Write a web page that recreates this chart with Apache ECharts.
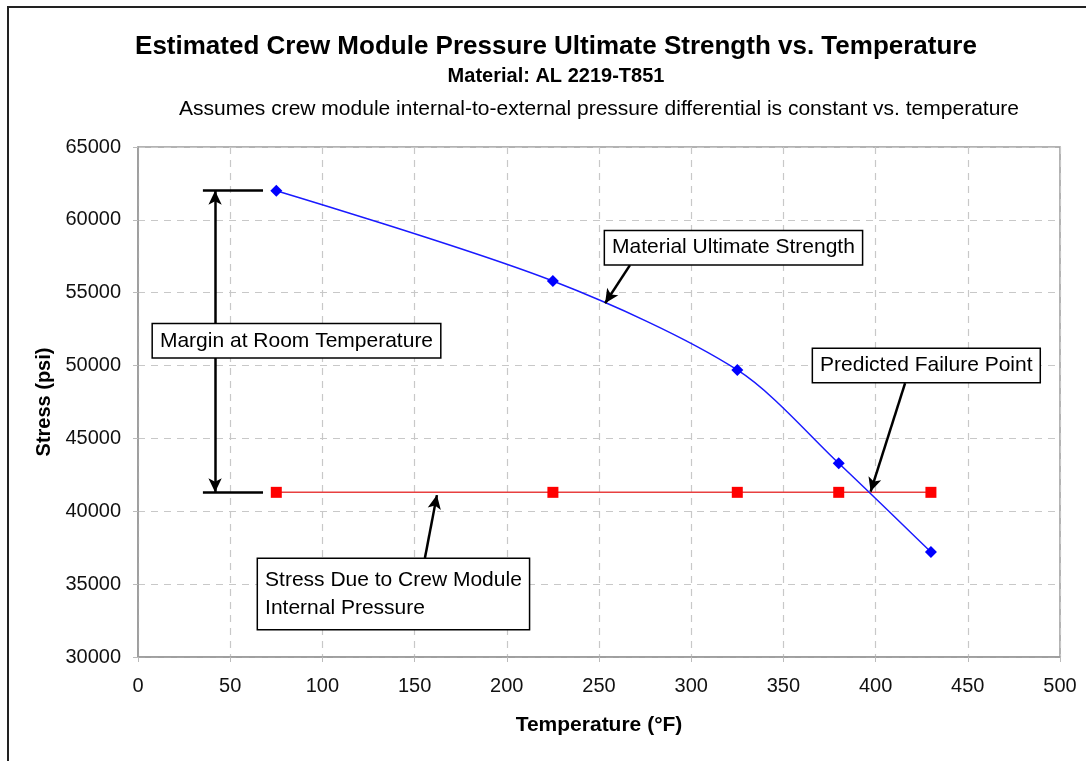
<!DOCTYPE html>
<html>
<head>
<meta charset="utf-8">
<script src="https://cdn.jsdelivr.net/npm/echarts@6/dist/echarts.min.js"></script>
<style>
html,body{margin:0;padding:0;background:#fff;}
#chart{width:1086px;height:761px;}
</style>
</head>
<body>
<div id="chart"></div>
<script>
// ---- data ----
const temperatures = [75, 225, 325, 380, 430];
const ultimateStrength = [62000, 55800, 49700, 43300, 37200];
const internalStress = [41300, 41300, 41300, 41300, 41300];
const xTicks = [0, 50, 100, 150, 200, 250, 300, 350, 400, 450, 500];
const yTicks = [30000, 35000, 40000, 45000, 50000, 55000, 60000, 65000];

// annotation anchors in data coordinates
const boxNotes = [
  {text: 'Margin at Room Temperature', at: [8.1, 51700]},
  {text: 'Material Ultimate Strength', at: [253.3, 58090]},
  {text: 'Predicted Failure Point', at: [366.1, 50000]},
  {text: 'Stress Due to Crew Module\nInternal Pressure', at: [65.1, 34320]}
];
const arrows = [
  {from: [266.8, 56890], to: [253.3, 54280]},
  {from: [416, 48800], to: [397.3, 41350]},
  {from: [155.6, 36790], to: [162.1, 41110]}
];
const marginX = 41.8;
const marginBarX = [35.2, 67.8];

const font = '"Liberation Sans", Arial, sans-serif';
const chart = echarts.init(document.getElementById('chart'));

const markLineData = [];
arrows.forEach(a => markLineData.push([
  {coord: a.from, symbol: 'none'},
  {coord: a.to, symbol: 'arrow'}
]));
markLineData.push([
  {coord: [marginX, ultimateStrength[0]], symbol: 'arrow'},
  {coord: [marginX, internalStress[0]], symbol: 'arrow'}
]);
[ultimateStrength[0], internalStress[0]].forEach(v => markLineData.push([
  {coord: [marginBarX[0], v], symbol: 'none'},
  {coord: [marginBarX[1], v], symbol: 'none'}
]));

chart.setOption({
  animation: false,
  backgroundColor: '#fff',
  textStyle: {fontFamily: font},
  title: [
    {text: 'Estimated Crew Module Pressure Ultimate Strength vs. Temperature', left: 551, top: 29, textAlign: 'center',
      textStyle: {fontFamily: font, fontSize: 26, fontWeight: 'bold', color: '#000'}},
    {text: 'Material: AL 2219-T851', left: 551, top: 61, textAlign: 'center',
      textStyle: {fontFamily: font, fontSize: 20, fontWeight: 'bold', color: '#000'}},
    {text: 'Assumes crew module internal-to-external pressure differential is constant vs. temperature', left: 594, top: 94, textAlign: 'center',
      textStyle: {fontFamily: font, fontSize: 21, fontWeight: 'normal', color: '#000'}}
  ],
  graphic: [
    {type: 'polyline', shape: {points: [[8, 761], [8, 7], [1086, 7]]}, style: {stroke: '#222', lineWidth: 2, fill: null}}
  ],
  grid: {left: 138, top: 147, right: 26, bottom: 104, show: true, borderColor: '#999', borderWidth: 1.5, backgroundColor: '#fff'},
  xAxis: {
    type: 'value', min: xTicks[0], max: xTicks[xTicks.length - 1], interval: 50,
    name: 'Temperature (°F)', nameLocation: 'middle', nameGap: 58,
    nameTextStyle: {fontFamily: font, fontSize: 21, fontWeight: 'bold', color: '#000'},
    axisLine: {lineStyle: {color: '#999', width: 1.5}},
    axisTick: {show: true, length: 5, lineStyle: {color: '#bbb'}},
    axisLabel: {fontFamily: font, fontSize: 20, color: '#111', margin: 19},
    splitLine: {show: true, lineStyle: {color: '#c8c8c8', type: [7, 6], width: 1.2}}
  },
  yAxis: {
    type: 'value', min: yTicks[0], max: yTicks[yTicks.length - 1], interval: 5000,
    name: 'Stress (psi)', nameLocation: 'middle', nameGap: 83, nameRotate: 90,
    nameTextStyle: {fontFamily: font, fontSize: 20, fontWeight: 'bold', color: '#000'},
    axisLine: {show: true, lineStyle: {color: '#999', width: 1.5}},
    axisTick: {show: true, length: 5, lineStyle: {color: '#bbb'}},
    axisLabel: {fontFamily: font, fontSize: 20, color: '#111', margin: 17, formatter: v => String(v)},
    splitLine: {show: true, lineStyle: {color: '#c8c8c8', type: [7, 6], width: 1.2}}
  },
  series: [
    {
      name: 'Material Ultimate Strength', type: 'line', smooth: 0.3,
      data: temperatures.map((t, i) => [t, ultimateStrength[i]]),
      symbol: 'diamond', symbolSize: 12,
      lineStyle: {color: '#1a1aff', width: 1.5},
      itemStyle: {color: '#0000ff'},
      z: 3
    },
    {
      name: 'Stress Due to Crew Module Internal Pressure', type: 'line',
      data: temperatures.map((t, i) => [t, internalStress[i]]),
      symbol: 'rect', symbolSize: 11,
      lineStyle: {color: '#e84040', width: 1.5},
      itemStyle: {color: '#ff0000'},
      z: 2
    },
    {
      name: 'annotations', type: 'scatter', data: [], z: 5,
      markLine: {
        silent: true, animation: false,
        symbolSize: [10, 14],
        lineStyle: {color: '#000', width: 2.5, type: 'solid'},
        itemStyle: {color: '#000'},
        label: {show: false},
        data: markLineData
      },
      markPoint: {
        silent: true, animation: false,
        symbol: 'rect', symbolSize: 0,
        itemStyle: {color: 'rgba(0,0,0,0)'},
        label: {
          show: true, position: 'inside', align: 'left', verticalAlign: 'middle',
          fontFamily: font, fontSize: 21, color: '#000', lineHeight: 24,
          backgroundColor: '#fff', borderColor: '#000', borderWidth: 1.5,
          padding: [5, 7, 4, 7]
        },
        data: boxNotes.map(n => ({coord: n.at, value: n.text,
          label: {formatter: n.text, lineHeight: n.text.indexOf('\n') >= 0 ? 28 : 24,
                  padding: n.text.indexOf('\n') >= 0 ? [7, 7, 7, 7] : [5, 7, 4, 7]}}))
      }
    }
  ]
});
</script>
</body>
</html>
